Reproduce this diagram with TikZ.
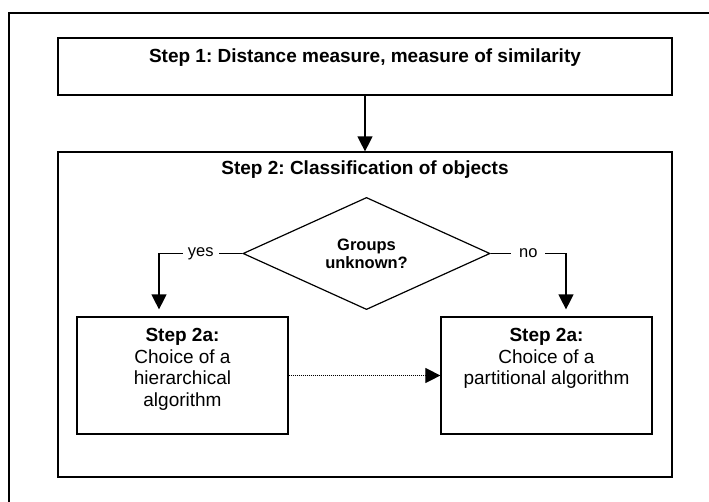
\documentclass[tikz,border=0pt]{standalone}
\usepackage{fontspec}
\setmainfont{Liberation Sans}
\frenchspacing
\usetikzlibrary{arrows.meta,shapes.geometric}
\begin{document}
\begin{tikzpicture}[x=1pt,y=-1pt,
  box/.style={draw, line width=1.2pt, inner sep=0pt},
  big/.style={font=\fontsize{19}{21.7}\selectfont, align=center, inner sep=0pt},
  small/.style={font=\fontsize{16.5}{18}\selectfont, align=center, inner sep=0pt},
  arr/.style={line width=1.2pt, -{Triangle[width=15pt,length=15pt]}},
  dotarr/.style={line width=1pt, dash pattern=on 1pt off 1pt, -{Triangle[width=15pt,length=15pt]}},
]
\useasboundingbox (0,0) rectangle (709,501);
% outer frame (open to right and bottom)
\coordinate (fr1) at (712,13);
\coordinate (fr2) at (9,13);
\coordinate (fr3) at (9,504);
\draw[line width=1.2pt] (fr1) -- (fr2) -- (fr3);

% Step 1
\node[box, minimum width=614pt, minimum height=57pt] (s1) at (365,66.5) {};
\node[big] (s1t) at (365,58) {\textbf{Step 1: Distance measure, measure of similarity}};

% Step 2
\node[box, minimum width=614pt, minimum height=325pt] (s2) at (365,314.5) {};
\node[big] (s2t) at (365,170) {\textbf{Step 2: Classification of objects}};

% decision
\node[draw, diamond, line width=1.2pt, minimum width=247pt, minimum height=95pt, inner sep=0pt, small] (d) at (366.5,253.5) {\textbf{Groups}\\\textbf{unknown?}};

% step 2a boxes
\node[box, minimum width=211pt, minimum height=117pt] (L) at (182.5,375.5) {};
\node[big, anchor=north] (Lt) at (182.5,328) {\textbf{Step 2a:}\\Choice of a\\hierarchical\\algorithm};
\node[box, minimum width=211pt, minimum height=117pt] (R) at (546.5,375.5) {};
\node[big, anchor=north] (Rt) at (546.5,328) {\textbf{Step 2a:}\\Choice of a\\partitional algorithm};

% connectors
\coordinate (yc) at (159,253.5);
\coordinate (nc) at (566,253.5);
\draw[arr] (s1) -- (s2);
\draw[arr, shorten >=7pt] (d.west) -- node[small, fill=white, inner xsep=5pt, inner ysep=2pt] (yes) {yes} (yc) -- (yc |- L.north);
\draw[arr, shorten >=7pt] (d.east) -- node[small, fill=white, inner xsep=8pt, inner ysep=2pt] (no) {no} (nc) -- (nc |- R.north);
\draw[dotarr] (L) -- (R);
\end{tikzpicture}
\end{document}
